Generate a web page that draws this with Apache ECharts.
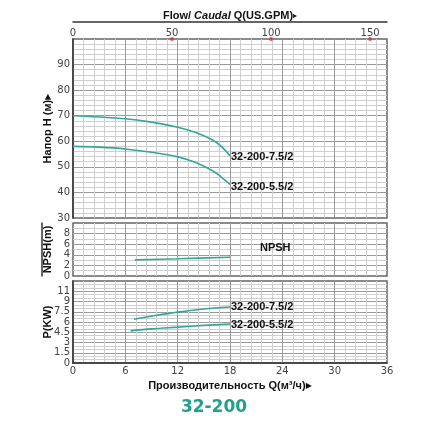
<!DOCTYPE html>
<html>
<head>
<meta charset="utf-8">
<script src="https://cdn.jsdelivr.net/npm/echarts@6/dist/echarts.min.js"></script>
<style>
html,body{margin:0;padding:0;background:#fff}
#main{width:428px;height:428px}
</style>
</head>
<body>
<div id="main"></div>
<script>
// values
var flowHead = [0, 3, 6, 9, 12, 14, 16, 17, 18];
var head75 = [70, 69.5, 68.8, 67.5, 65.5, 63.5, 60.5, 58, 54.3];
var head55 = [58, 57.7, 57.0, 55.7, 53.9, 51.8, 48.5, 46, 43.1];
var flowNpsh = [7.1, 12, 18];
var npsh = [3.05, 3.25, 3.55];
var flowP75 = [7, 9, 12, 15, 18];
var power75 = [6.4, 6.85, 7.45, 7.9, 8.2];
var flowP55 = [6.6, 9, 12, 15, 18];
var power55 = [4.7, 5.0, 5.25, 5.5, 5.7];
var gpmMarks = [50, 100, 150];
var powerTickLabels = ['0', '1.5', '3', '4.5', '6', '7.5', '9', '11'];
var model75 = '32-200-7.5/2';
var model55 = '32-200-5.5/2';
var GPM_PER_M3H = 4.40287;

function zip(xs, ys){
    var out = [];
    for (var i = 0; i < xs.length; i++) out.push([xs[i], ys[i]]);
    return out;
}

var teal = '#35a798';
var labFont = 'DejaVu Sans';
var nameFont = 'Liberation Sans';
var major = {show: true, showMinLine: false, showMaxLine: false, lineStyle: {color: '#9a9a9a', width: 1}};
var minor = {show: true, lineStyle: {color: '#cfcfcf', width: 1}};
var axisLab = {color: '#444', fontFamily: labFont, fontSize: 10, margin: 3};
var nameRich = {
    b: {color: '#111', fontFamily: nameFont, fontSize: 11, fontWeight: 'bold'},
    i: {color: '#111', fontFamily: nameFont, fontSize: 11, fontWeight: 'bold', fontStyle: 'italic'},
    s: {color: '#111', fontFamily: labFont, fontSize: 8}
};
var nameStyle = {color: '#111', fontFamily: nameFont, fontSize: 11, fontWeight: 'bold', rich: nameRich};

function flowAxis(grid, showLabels){
    return {
        type: 'value', gridIndex: grid, min: 0, max: 36, interval: 6,
        axisLine: {show: false}, axisTick: {show: false},
        axisLabel: showLabels ? axisLab : {show: false},
        minorTick: {show: false, splitNumber: 5},
        splitLine: major, minorSplitLine: minor
    };
}
// plain rule used for the lines beside the axis titles
function lineAxis(grid, pos, off){
    return {
        type: 'value', gridIndex: grid, position: pos, offset: off, min: 0, max: 1,
        axisLine: {show: true, lineStyle: {color: '#333', width: 1.5}},
        axisTick: {show: false}, axisLabel: {show: false}, splitLine: {show: false}
    };
}
function curve(name, xAxis, yAxis, data, off){
    return {
        name: name, type: 'line', xAxisIndex: xAxis, yAxisIndex: yAxis,
        data: data, smooth: 0.35, showSymbol: false, symbol: 'none',
        lineStyle: {color: teal, width: 1.6}, itemStyle: {color: teal},
        endLabel: off ? {show: true, formatter: '{a}', color: '#111', fontFamily: nameFont,
            fontSize: 11, fontWeight: 'bold', offset: off} : {show: false},
        animation: false
    };
}
function sideName(text){
    return {
        name: text, nameLocation: 'middle', nameGap: 20, nameRotate: 90,
        nameMoveOverlap: false, nameTextStyle: nameStyle
    };
}

var headAxis = Object.assign({
    type: 'value', gridIndex: 0, min: 30, max: 100, interval: 10,
    axisLine: {show: false}, axisTick: {show: false},
    axisLabel: {color: '#444', fontFamily: labFont, fontSize: 10, margin: 3,
        formatter: function(v){ return v >= 100 ? '' : v; }},
    minorTick: {show: false, splitNumber: 5},
    splitLine: major, minorSplitLine: minor
}, sideName('{b|Напор H (м)}{s|▶}'));

var npshAxis = Object.assign({
    type: 'value', gridIndex: 1, min: 0, max: 10, interval: 2,
    axisLine: {show: false}, axisTick: {show: false},
    axisLabel: {color: '#444', fontFamily: labFont, fontSize: 10, margin: 3,
        formatter: function(v){ return v >= 10 ? '' : v; }},
    minorTick: {show: false, splitNumber: 2},
    splitLine: major, minorSplitLine: minor
}, sideName('{b|NPSH(m)}'));

var powerAxis = Object.assign({
    type: 'value', gridIndex: 2, min: 0, max: 12, interval: 1.5,
    axisLine: {show: false}, axisTick: {show: false},
    axisLabel: {color: '#444', fontFamily: labFont, fontSize: 10, margin: 3,
        formatter: function(v){ return powerTickLabels[Math.round(v / 1.5)] || ''; }},
    minorTick: {show: false, splitNumber: 3},
    splitLine: major, minorSplitLine: minor
}, sideName('{b|P(KW)}'));

var chart = echarts.init(document.getElementById('main'));
chart.setOption({
    backgroundColor: '#fff',
    animation: false,
    grid: [
        {left: 73, right: 41, top: 39, height: 179, show: true, borderColor: '#666', borderWidth: 1.5, backgroundColor: '#fff'},
        {left: 73, right: 41, top: 223, height: 53, show: true, borderColor: '#666', borderWidth: 1.5, backgroundColor: '#fff'},
        {left: 73, right: 41, top: 281, height: 82, show: true, borderColor: '#666', borderWidth: 1.5, backgroundColor: '#fff'}
    ],
    title: [{
        text: '32-200', left: 'center', top: 394,
        textStyle: {color: '#21a08b', fontFamily: labFont, fontSize: 17, fontWeight: 'bold'}
    }],
    xAxis: [
        flowAxis(0, false),
        {
            type: 'value', gridIndex: 0, position: 'top', min: 0, max: 36 * GPM_PER_M3H, interval: 50,
            axisLine: {show: false}, axisTick: {show: false}, splitLine: {show: false},
            axisLabel: {color: '#444', fontFamily: labFont, fontSize: 10, margin: 1, showMaxLabel: false},
            name: '{b|Flow/ }{i|Caudal}{b| Q(US.GPM)}{s|▸}', nameLocation: 'middle', nameGap: 18,
            nameTextStyle: {rich: nameRich}
        },
        lineAxis(0, 'top', 17),
        flowAxis(1, false),
        (function(){
            var a = flowAxis(2, true);
            a.name = '{b|Производительность Q(м³/ч)}{s|▶}';
            a.nameLocation = 'middle';
            a.nameGap = 17;
            a.nameTextStyle = nameStyle;
            return a;
        })(),
        lineAxis(2, 'bottom', 28)
    ],
    yAxis: [
        headAxis,
        lineAxis(0, 'left', 31),
        npshAxis,
        lineAxis(1, 'left', 31),
        powerAxis,
        lineAxis(2, 'left', 31)
    ],
    graphic: [{
        type: 'text', left: 260, top: 242, z: 100,
        style: {text: 'NPSH', fill: '#111', font: 'bold 11px "Liberation Sans"'}
    }],
    series: [
        curve(model75, 0, 0, zip(flowHead, head75), [-7, 1]),
        curve(model55, 0, 0, zip(flowHead, head55), [-7, 2]),
        curve('NPSH', 3, 2, zip(flowNpsh, npsh), null),
        curve(model75, 4, 4, zip(flowP75, power75), [-7, 0]),
        curve(model55, 4, 4, zip(flowP55, power55), [-7, 1]),
        {
            type: 'scatter', xAxisIndex: 1, yAxisIndex: 0, clip: false,
            data: gpmMarks.map(function(g){ return [g, 100]; }),
            symbolSize: 4, itemStyle: {color: '#e0303a'}, z: 5
        }
    ]
});
</script>
</body>
</html>
